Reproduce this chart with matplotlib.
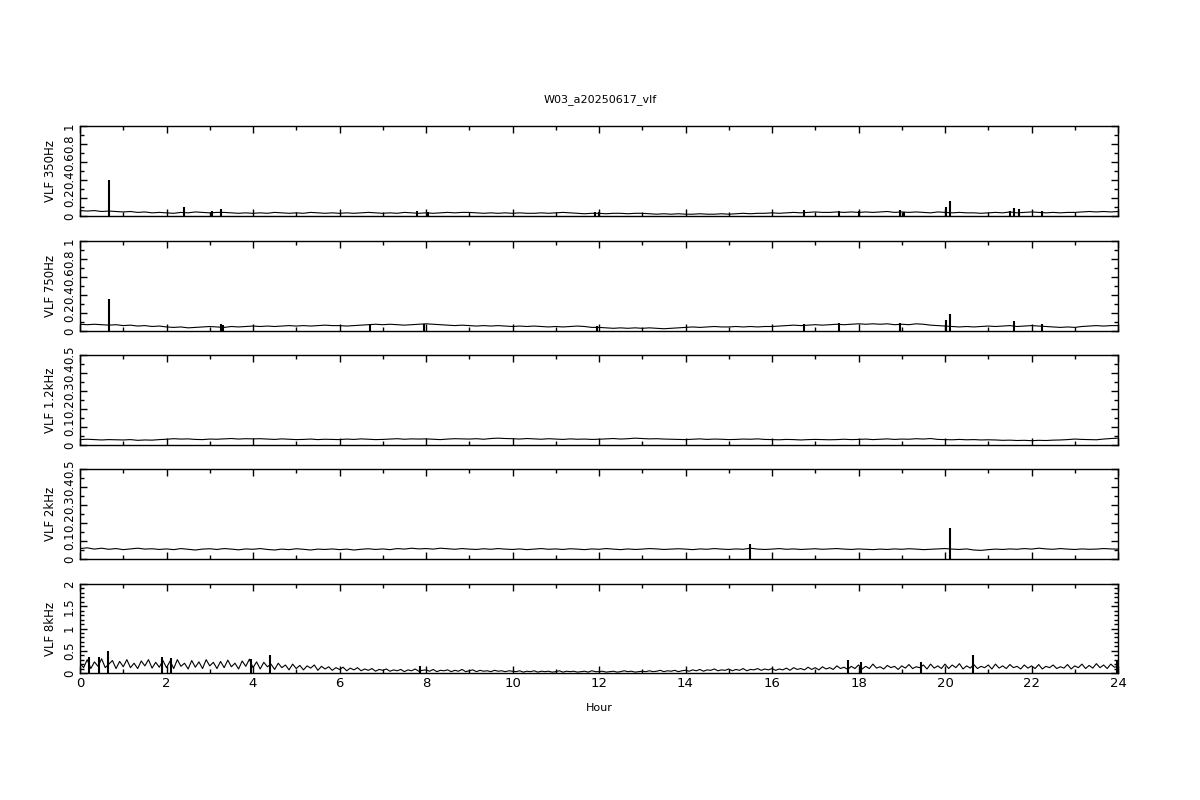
import numpy as np
import matplotlib
matplotlib.use("Agg")
import matplotlib.pyplot as plt
from matplotlib.ticker import MultipleLocator, FormatStrFormatter

title = "W03_a20250617_vlf"
labels = ["VLF 350Hz", "VLF 750Hz", "VLF 1.2kHz", "VLF 2kHz", "VLF 8kHz"]
ymax = [1.0, 1.0, 0.5, 0.5, 2.0]
ymajor = [0.2, 0.2, 0.1, 0.1, 0.5]
yminor = [0.1, 0.1, 0.05, 0.05, 0.1]

# 10-minute samples, one row per 2 hours
hours = [i / 6.0 for i in range(145)]
# 5-minute samples for the 8 kHz channel
hours5 = [i / 12.0 for i in range(289)]

vlf350 = [
    0.06, 0.055, 0.06, 0.05, 0.055, 0.05, 0.045, 0.05, 0.04, 0.045, 0.035, 0.04,
    0.035, 0.03, 0.04, 0.035, 0.045, 0.04, 0.035, 0.04, 0.04, 0.035, 0.03, 0.035,
    0.03, 0.035, 0.03, 0.04, 0.035, 0.03, 0.035, 0.03, 0.04, 0.035, 0.03, 0.035,
    0.03, 0.035, 0.03, 0.035, 0.04, 0.035, 0.03, 0.035, 0.03, 0.04, 0.035, 0.03,
    0.035, 0.03, 0.035, 0.04, 0.035, 0.04, 0.04, 0.035, 0.03, 0.035, 0.03, 0.035,
    0.03, 0.035, 0.03, 0.03, 0.035, 0.03, 0.035, 0.04, 0.035, 0.03, 0.025, 0.03,
    0.03, 0.025, 0.03, 0.03, 0.025, 0.03, 0.03, 0.025, 0.02, 0.025, 0.02, 0.025,
    0.02, 0.02, 0.025, 0.02, 0.02, 0.025, 0.02, 0.025, 0.03, 0.025, 0.03, 0.03,
    0.035, 0.03, 0.035, 0.04, 0.035, 0.04, 0.045, 0.04, 0.04, 0.045, 0.04, 0.045,
    0.04, 0.045, 0.04, 0.045, 0.05, 0.04, 0.045, 0.04, 0.045, 0.04, 0.035, 0.045,
    0.04, 0.035, 0.04, 0.035, 0.035, 0.03, 0.035, 0.04, 0.035, 0.045, 0.035, 0.04,
    0.045, 0.04, 0.035, 0.04, 0.035, 0.04, 0.04, 0.045, 0.05, 0.045, 0.05, 0.045,
    0.05,
]

vlf750 = [
    0.075, 0.07, 0.075, 0.07, 0.065, 0.07, 0.06, 0.065, 0.055, 0.06, 0.05, 0.055,
    0.045, 0.04, 0.045, 0.035, 0.04, 0.045, 0.05, 0.045, 0.04, 0.05, 0.045, 0.05,
    0.055, 0.05, 0.055, 0.05, 0.055, 0.06, 0.055, 0.06, 0.055, 0.06, 0.065, 0.06,
    0.06, 0.055, 0.06, 0.065, 0.07, 0.075, 0.07, 0.075, 0.07, 0.065, 0.07, 0.075,
    0.08, 0.075, 0.07, 0.065, 0.06, 0.065, 0.06, 0.055, 0.06, 0.055, 0.06, 0.055,
    0.05, 0.055, 0.05, 0.055, 0.05, 0.045, 0.05, 0.045, 0.05, 0.055, 0.05, 0.04,
    0.04, 0.035, 0.03, 0.035, 0.03, 0.035, 0.03, 0.035, 0.03, 0.025, 0.03, 0.035,
    0.04, 0.045, 0.04, 0.045, 0.05, 0.045, 0.045, 0.05, 0.045, 0.05, 0.045, 0.05,
    0.05, 0.055, 0.06, 0.065, 0.06, 0.065, 0.07, 0.065, 0.07, 0.075, 0.07, 0.075,
    0.08, 0.075, 0.08, 0.075, 0.08, 0.07, 0.075, 0.07, 0.08, 0.075, 0.065, 0.06,
    0.055, 0.05, 0.045, 0.05, 0.045, 0.05, 0.055, 0.05, 0.055, 0.06, 0.05, 0.055,
    0.06, 0.055, 0.05, 0.045, 0.04, 0.045, 0.04, 0.05, 0.055, 0.06, 0.055, 0.06,
    0.06,
]

vlf1200 = [
    0.03, 0.032, 0.03, 0.028, 0.03, 0.029, 0.028, 0.03, 0.026, 0.028, 0.027, 0.03,
    0.032, 0.035, 0.033, 0.034, 0.031, 0.03, 0.033, 0.032, 0.034, 0.036, 0.033, 0.035,
    0.034, 0.035, 0.033, 0.031, 0.034, 0.032, 0.03, 0.031, 0.033, 0.03, 0.032, 0.031,
    0.03, 0.033, 0.031, 0.034, 0.032, 0.03, 0.031, 0.033, 0.035, 0.032, 0.034, 0.033,
    0.034, 0.032, 0.03, 0.033, 0.035, 0.034, 0.033, 0.035, 0.032, 0.036, 0.038, 0.036,
    0.035, 0.033, 0.036, 0.034, 0.032, 0.035, 0.033, 0.031, 0.034, 0.032, 0.033, 0.031,
    0.032, 0.034, 0.036, 0.033, 0.035, 0.038, 0.036, 0.034, 0.035, 0.033, 0.032, 0.031,
    0.03, 0.032, 0.034, 0.031, 0.033, 0.032, 0.03, 0.031, 0.033, 0.032, 0.034, 0.031,
    0.03, 0.029, 0.031, 0.03, 0.028, 0.03, 0.031, 0.03, 0.029, 0.03, 0.032, 0.03,
    0.031, 0.033, 0.03, 0.032, 0.034, 0.031, 0.033, 0.032, 0.035, 0.033, 0.036, 0.031,
    0.03, 0.029, 0.031, 0.029, 0.03, 0.028, 0.029, 0.028, 0.026, 0.027, 0.025, 0.026,
    0.024, 0.026, 0.025, 0.027, 0.028, 0.03, 0.033, 0.031, 0.03, 0.029, 0.033, 0.036,
    0.038,
]

vlf2000 = [
    0.058, 0.062, 0.055, 0.06, 0.054, 0.058, 0.052, 0.056, 0.06, 0.055, 0.057, 0.053,
    0.056, 0.052, 0.058, 0.054, 0.05, 0.055, 0.057, 0.053, 0.058, 0.055, 0.051, 0.056,
    0.054, 0.058, 0.053, 0.05, 0.055, 0.052, 0.057, 0.054, 0.05, 0.055, 0.053, 0.056,
    0.052, 0.055, 0.05, 0.054, 0.057, 0.053, 0.056, 0.052, 0.058, 0.055, 0.06, 0.056,
    0.058, 0.055, 0.06, 0.057, 0.054, 0.058, 0.055, 0.053, 0.057, 0.054, 0.058, 0.055,
    0.053, 0.056, 0.052, 0.055, 0.058, 0.054, 0.056, 0.053, 0.057, 0.055, 0.052, 0.056,
    0.054, 0.058, 0.055, 0.052, 0.056, 0.053, 0.055, 0.058, 0.056, 0.053, 0.055, 0.057,
    0.055, 0.052, 0.056, 0.054, 0.058, 0.055, 0.053, 0.056, 0.054, 0.06, 0.055, 0.053,
    0.055, 0.058, 0.054, 0.056, 0.053, 0.055, 0.057, 0.054, 0.056, 0.058, 0.055, 0.053,
    0.056, 0.054, 0.052, 0.055, 0.053, 0.056, 0.054, 0.057, 0.055, 0.052, 0.054, 0.056,
    0.058, 0.055, 0.053, 0.056, 0.05, 0.048, 0.052, 0.055, 0.053, 0.056, 0.054, 0.058,
    0.055, 0.06, 0.056, 0.054, 0.058, 0.055, 0.053, 0.056, 0.054, 0.055, 0.058, 0.056,
    0.055,
]

vlf8000 = [
    0.22, 0.12, 0.3, 0.1, 0.25, 0.15, 0.32, 0.12, 0.2, 0.28, 0.1, 0.26,
    0.14, 0.3, 0.12, 0.22, 0.1, 0.27, 0.16, 0.3, 0.11, 0.24, 0.13, 0.28,
    0.12, 0.27, 0.1, 0.3, 0.15, 0.22, 0.09, 0.28, 0.13, 0.25, 0.1, 0.3,
    0.16, 0.24, 0.1, 0.26, 0.12, 0.29, 0.14, 0.22, 0.09, 0.27, 0.15, 0.31,
    0.12, 0.25, 0.09, 0.24, 0.14, 0.2, 0.08, 0.22, 0.12, 0.18, 0.07, 0.2,
    0.1, 0.17, 0.07, 0.16, 0.11, 0.18, 0.06, 0.15, 0.09, 0.14, 0.06, 0.12,
    0.08, 0.13, 0.05, 0.11, 0.07, 0.12, 0.05, 0.09, 0.06, 0.1, 0.04, 0.08,
    0.06, 0.09, 0.04, 0.07, 0.05, 0.08, 0.03, 0.07, 0.05, 0.09, 0.04, 0.06,
    0.07, 0.04, 0.08, 0.03, 0.06, 0.05, 0.07, 0.03, 0.06, 0.04, 0.08, 0.03,
    0.05, 0.07, 0.03, 0.06, 0.04, 0.05, 0.03, 0.06, 0.04, 0.05, 0.03, 0.05,
    0.04, 0.03, 0.05, 0.02, 0.04, 0.03, 0.05, 0.02, 0.04, 0.03, 0.04, 0.02,
    0.03, 0.05, 0.02, 0.04, 0.03, 0.04, 0.02, 0.03, 0.04, 0.02, 0.05, 0.03,
    0.03, 0.04, 0.02, 0.03, 0.04, 0.02, 0.03, 0.05, 0.03, 0.04, 0.02, 0.03,
    0.04, 0.03, 0.05, 0.03, 0.04, 0.06, 0.03, 0.05, 0.04, 0.06, 0.03, 0.05,
    0.06, 0.04, 0.07, 0.05, 0.08, 0.04, 0.07, 0.06, 0.09, 0.05, 0.07, 0.06,
    0.09, 0.05, 0.08, 0.06, 0.1, 0.05, 0.08, 0.07, 0.1, 0.06, 0.09, 0.07,
    0.1, 0.06, 0.09, 0.07, 0.11, 0.06, 0.12, 0.08, 0.1, 0.07, 0.13, 0.08,
    0.12, 0.07, 0.14, 0.09, 0.12, 0.08, 0.16, 0.1, 0.13, 0.08, 0.15, 0.1,
    0.18, 0.09, 0.15, 0.1, 0.2, 0.11, 0.14, 0.09, 0.17, 0.12, 0.15, 0.08,
    0.16, 0.11, 0.19, 0.1, 0.14, 0.12, 0.18, 0.09, 0.2, 0.11, 0.16, 0.1,
    0.2, 0.1, 0.18, 0.12, 0.21, 0.09, 0.16, 0.11, 0.19, 0.1, 0.15, 0.12,
    0.18, 0.09, 0.2, 0.11, 0.16, 0.1, 0.19, 0.12, 0.15, 0.09, 0.18, 0.11,
    0.16, 0.1, 0.19, 0.09, 0.15, 0.12, 0.18, 0.1, 0.14, 0.11, 0.19, 0.09,
    0.16, 0.12, 0.2, 0.1, 0.17, 0.11, 0.21, 0.12, 0.18, 0.1, 0.2, 0.13,
    0.15,
]

# short bursts (hour, peak value)
spikes350 = [(0.68, 0.40), (2.4, 0.10), (3.05, 0.06), (3.25, 0.08), (7.8, 0.06),
             (8.05, 0.05), (11.9, 0.05), (12.0, 0.05), (16.75, 0.065), (17.55, 0.06),
             (18.0, 0.055), (18.95, 0.07), (19.05, 0.05), (20.02, 0.10), (20.12, 0.17),
             (21.5, 0.06), (21.6, 0.09), (21.7, 0.08), (22.25, 0.06)]
spikes750 = [(0.68, 0.36), (3.25, 0.08), (3.3, 0.07), (6.7, 0.08), (7.95, 0.08),
             (11.95, 0.06), (16.75, 0.08), (17.55, 0.09), (18.95, 0.09), (20.02, 0.12),
             (20.12, 0.19), (21.6, 0.11), (22.25, 0.08)]
spikes1200 = []
spikes2000 = [(15.5, 0.085), (20.12, 0.17)]
spikes8000 = [(0.2, 0.35), (0.45, 0.36), (0.65, 0.5), (1.9, 0.35), (2.1, 0.33),
              (3.95, 0.32), (4.4, 0.4), (7.85, 0.15), (17.75, 0.3), (18.05, 0.25),
              (19.45, 0.25), (20.65, 0.4), (23.98, 0.3)]

times = [hours, hours, hours, hours, hours5]
series = [vlf350, vlf750, vlf1200, vlf2000, vlf8000]
spikes = [spikes350, spikes750, spikes1200, spikes2000, spikes8000]

plt.rcParams['font.family'] = 'DejaVu Sans'
plt.rcParams['font.size'] = 8

fig = plt.figure(figsize=(12, 8), dpi=100)
tops = [126, 241, 355, 469, 584]
for i in range(5):
    h = 90 if i < 4 else 89
    ax = fig.add_axes([80 / 1200, 1 - (tops[i] + h) / 800, 1038 / 1200, h / 800])
    ax.plot(times[i], series[i], color='black', lw=0.8)
    if spikes[i]:
        st = [s[0] for s in spikes[i]]
        sv = [s[1] for s in spikes[i]]
        ax.vlines(st, 0, sv, color='black', lw=1.5)
    ax.set_xlim(0, 24)
    ax.set_ylim(0, ymax[i])
    ax.xaxis.set_major_locator(MultipleLocator(2))
    ax.xaxis.set_minor_locator(MultipleLocator(1))
    ax.yaxis.set_major_locator(MultipleLocator(ymajor[i]))
    ax.yaxis.set_minor_locator(MultipleLocator(yminor[i]))
    ax.yaxis.set_major_formatter(FormatStrFormatter('%g'))
    ax.tick_params(which='both', direction='in', top=True, right=True, width=1)
    ax.tick_params(which='major', length=5, pad=3)
    ax.tick_params(which='minor', length=3)
    ax.tick_params(axis='y', labelrotation=90, labelsize=8.5)
    for lab in ax.get_yticklabels():
        lab.set_verticalalignment('center')
    for sp in ax.spines.values():
        sp.set_linewidth(1)
    ax.set_ylabel(labels[i], labelpad=4, fontsize=8.5)
    if i < 4:
        ax.tick_params(labelbottom=False)
    else:
        ax.tick_params(axis='x', labelsize=9.5)
        ax.set_xlabel('Hour', labelpad=9, fontsize=8)

fig.text(0.5, 1 - 100 / 800, title, ha='center', va='center', fontsize=8)
fig.savefig('out.png', dpi=100)
